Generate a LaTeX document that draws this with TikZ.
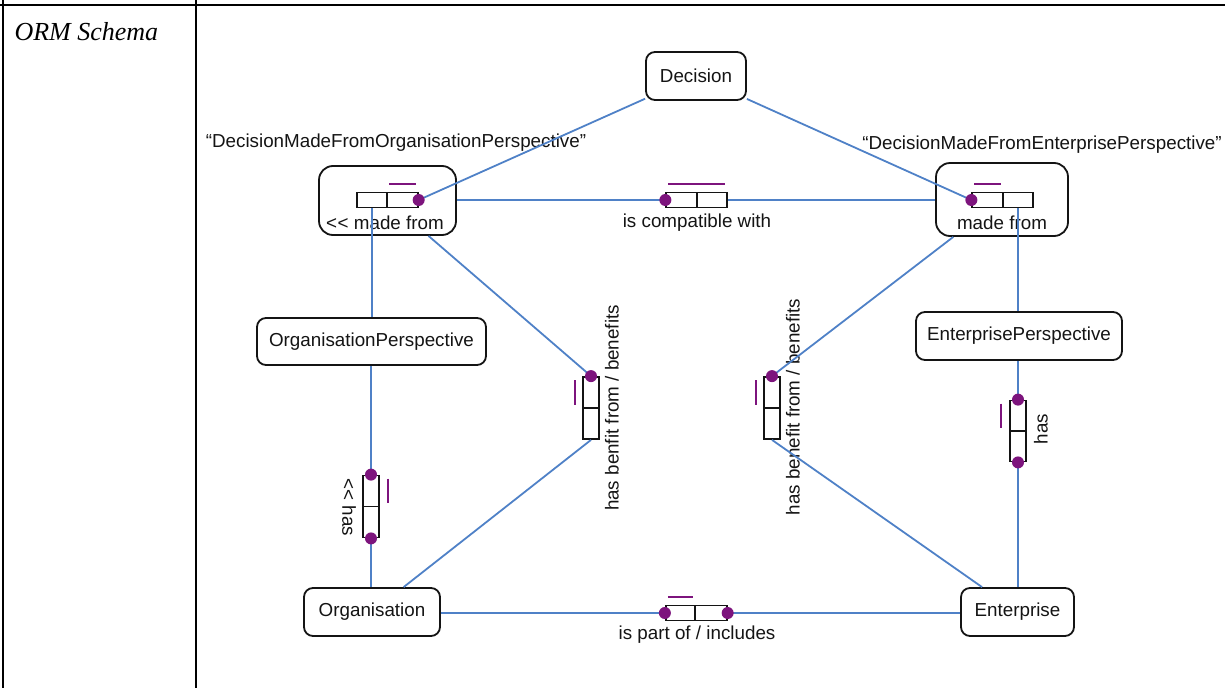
\documentclass[tikz,border=0pt]{standalone}
\usepackage{fontspec}
\setmainfont{Liberation Sans}
\newfontfamily\tablefont{Liberation Serif}
\newcommand{\dbl}{\mbox{<}\kern0.5pt\mbox{<}}
\definecolor{linkblue}{RGB}{79,129,199}
\definecolor{rolepurple}{RGB}{125,20,125}
\definecolor{ink}{RGB}{20,20,20}
\begin{document}
\begin{tikzpicture}[x=1pt,y=-1pt,
  every node/.style={font=\fontsize{18.8}{22}\selectfont, text=ink},
  entity/.style={draw=ink, line width=1.8pt, rounded corners=9pt, minimum height=48pt, inner sep=0pt},
  nested/.style={draw=ink, line width=1.8pt, rounded corners=14pt, inner sep=0pt},
  role/.style={draw=ink, line width=1.8pt, minimum width=30.5pt, minimum height=15pt, inner sep=0pt},
  vrole/.style={draw=ink, line width=1.8pt, minimum width=15.5pt, minimum height=31pt, inner sep=0pt},
  link/.style={draw=linkblue, line width=1.8pt},
  rdot/.style={fill=rolepurple, draw=none, circle, minimum size=12pt, inner sep=0pt},
  ubar/.style={draw=rolepurple, line width=2.2pt},
  grid/.style={draw=black, line width=1.8pt}]
\useasboundingbox (0,0) rectangle (1225,688);

% table frame
\draw[grid] (0,5) -- (1225,5);
\draw[grid] (3,0) -- (3,688);
\draw[grid] (196,0) -- (196,688);
\node[anchor=base west, font=\tablefont\itshape\fontsize{26}{30}\selectfont, text=black] (title) at (11,40) {ORM Schema};

% entity types
\node[entity, minimum width=100pt] (dec) at (696,76) {Decision};
\node[entity, minimum width=229pt, minimum height=47pt] (orgp) at (371.5,341.5) {OrganisationPerspective};
\node[entity, minimum width=206pt] (entp) at (1019,336) {EnterprisePerspective};
\node[entity, minimum width=136pt] (org) at (372,612) {Organisation};
\node[entity, minimum width=113pt] (ent) at (1017.5,612) {Enterprise};

% objectified fact types
\node[nested, minimum width=137pt, minimum height=69pt] (lnest) at (387.5,200.5) {};
\node[nested, minimum width=132pt, minimum height=73pt] (rnest) at (1002,199.5) {};
\node (lnestname) at (396,143) {“DecisionMadeFromOrganisationPerspective”};
\node (rnestname) at (1042,145) {“DecisionMadeFromEnterprisePerspective”};

% role boxes
\node[role] (lr1) at (372,200) {};
\node[role] (lr2) at (402.5,200) {};
\node[role] (cr1) at (681.5,200) {};
\node[role] (cr2) at (712,200) {};
\node[role] (rr1) at (987.5,200) {};
\node[role] (rr2) at (1018,200) {};
\node[role, minimum width=29.5pt] (pr1) at (680.5,613) {};
\node[role, minimum width=31.5pt] (pr2) at (711,613) {};
\node[vrole] (hl1) at (371,491) {};
\node[vrole] (hl2) at (371,522) {};
\node[vrole] (lb1) at (591,392.5) {};
\node[vrole] (lb2) at (591,423.5) {};
\node[vrole] (rb1) at (772,392.5) {};
\node[vrole] (rb2) at (772,423.5) {};
\node[vrole] (hr1) at (1018,416) {};
\node[vrole] (hr2) at (1018,446) {};

% fact type readings
\node (lmade) at (385,223) {\dbl{} made from};
\node (compat) at (697,223) {is compatible with};
\node (rmade) at (1002,223) {made from};
\node (partof) at (697,635) {is part of / includes};
\node[rotate=-90] (lhas) at (349,507) {\dbl{} has};
\node[rotate=90] (lben) at (612,408) {has benfit from / benefits};
\node[rotate=90] (rben) at (793,407) {has benefit from / benefits};
\node[rotate=90] (rhas) at (1041,429) {has};

% mandatory role dots
\coordinate (dl) at (lr2.east);
\coordinate (dc) at (cr1.west);
\coordinate (dr) at (rr1.west);
\coordinate (dp1) at (pr1.west);
\coordinate (dp2) at (pr2.east);
\coordinate (dh1) at (hl1.north);
\coordinate (dh2) at (hl2.south);
\coordinate (dlb) at (lb1.north);
\coordinate (drb) at (rb1.north);
\coordinate (dk1) at (hr1.north);
\coordinate (dk2) at (hr2.south);

% connectors
\draw[link] (dec) -- (dl);
\draw[link] (dec) -- (dr);
\draw[link] (lnest.east |- dc) -- (dc);
\draw[link] (cr2.east) -- (rnest.west |- cr2.east);
\draw[link] (lr1.south) -- (orgp.north -| lr1.south);
\draw[link] (rr2.south) -- (entp.north -| rr2.south);
\draw[link] (orgp.south -| dh1) -- (dh1);
\draw[link] (dh2) -- (org.north -| dh2);
\draw[link] (lnest) -- (dlb);
\draw[link] (lb2.south) -- (org);
\draw[link] (rnest) -- (drb);
\draw[link] (rb2.south) -- (ent);
\draw[link] (entp.south -| dk1) -- (dk1);
\draw[link] (dk2) -- (ent.north -| dk2);
\draw[link] (org.east |- dp1) -- (dp1);
\draw[link] (dp2) -- (ent.west |- dp2);

\foreach \d in {dl,dc,dr,dp1,dp2,dh1,dh2,dlb,drb,dk1,dk2}
  \node[rdot] at (\d) {};

% uniqueness constraints
\draw[ubar] ([shift={(3,-8)}]lr2.north west) -- ([shift={(-3,-8)}]lr2.north east);
\draw[ubar] ([shift={(3,-8)}]cr1.north west) -- ([shift={(-3,-8)}]cr2.north east);
\draw[ubar] ([shift={(3,-8)}]rr1.north west) -- ([shift={(-3,-8)}]rr1.north east);
\draw[ubar] ([shift={(3,-8)}]pr1.north west) -- ([shift={(-3,-8)}]pr1.north east);
\draw[ubar] ([shift={(8,4)}]hl1.north east) -- ([shift={(8,-4)}]hl1.south east);
\draw[ubar] ([shift={(-7,4)}]lb1.north west) -- ([shift={(-7,-4)}]lb1.south west);
\draw[ubar] ([shift={(-7,4)}]rb1.north west) -- ([shift={(-7,-4)}]rb1.south west);
\draw[ubar] ([shift={(-8,4)}]hr1.north west) -- ([shift={(-8,-4)}]hr1.south west);
\end{tikzpicture}
\end{document}
